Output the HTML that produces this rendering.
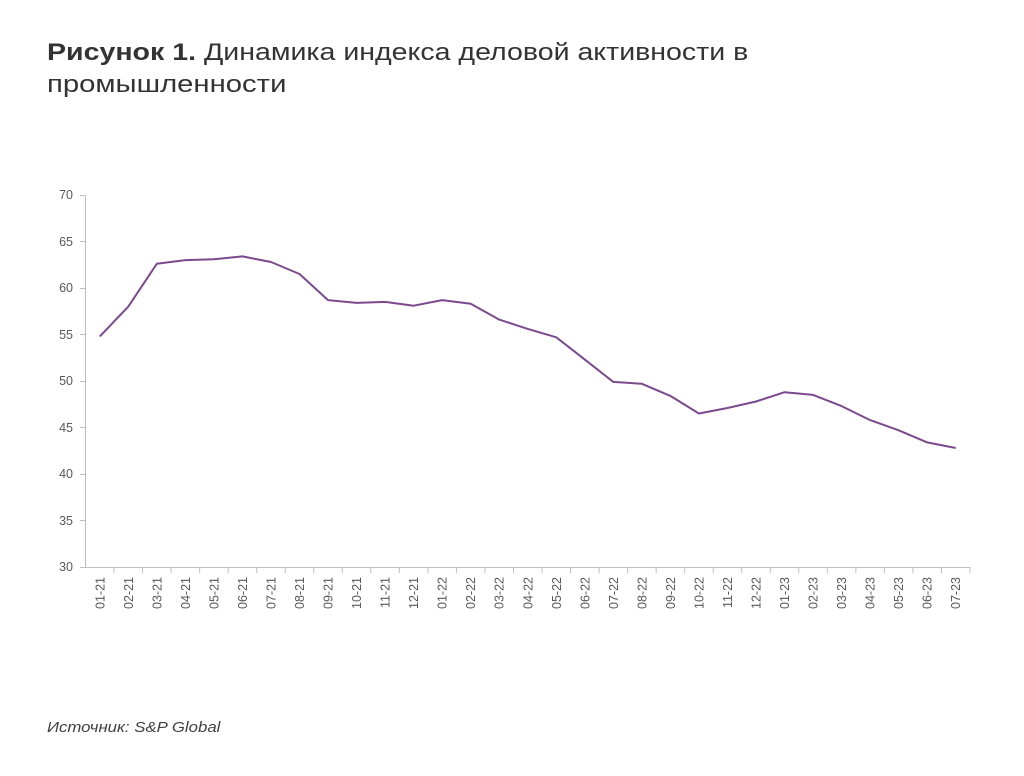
<!DOCTYPE html>
<html><head><meta charset="utf-8"><style>
body{margin:0;background:#fff;width:1024px;height:771px;overflow:hidden;font-family:"Liberation Sans",sans-serif}
</style></head><body>
<svg width="1024" height="771" xmlns="http://www.w3.org/2000/svg" font-family="Liberation Sans, sans-serif">
<g transform="translate(47,60) scale(1.19,1)"><text x="0" y="0" font-size="24" fill="#333"><tspan font-weight="bold">Рисунок 1.</tspan> Динамика индекса деловой активности в</text></g>
<g transform="translate(47,92) scale(1.22,1)"><text x="0" y="0" font-size="24" fill="#333">промышленности</text></g>
<g stroke="#bfbfbf" stroke-width="1" fill="none">
<line x1="85.5" y1="195" x2="85.5" y2="567"/>
<line x1="85" y1="567.5" x2="970" y2="567.5"/>
</g>
<g font-size="12.5" fill="#595959" text-anchor="end">
<text x="73" y="199">70</text><text x="73" y="246">65</text><text x="73" y="292">60</text>
<text x="73" y="339">55</text><text x="73" y="385">50</text><text x="73" y="432">45</text>
<text x="73" y="478">40</text><text x="73" y="525">35</text><text x="73" y="571">30</text>
</g>
<g stroke="#bfbfbf">
<line x1="80" y1="195.5" x2="85" y2="195.5"/><line x1="80" y1="241.5" x2="85" y2="241.5"/><line x1="80" y1="288.5" x2="85" y2="288.5"/>
<line x1="80" y1="334.5" x2="85" y2="334.5"/><line x1="80" y1="381.5" x2="85" y2="381.5"/><line x1="80" y1="427.5" x2="85" y2="427.5"/>
<line x1="80" y1="474.5" x2="85" y2="474.5"/><line x1="80" y1="520.5" x2="85" y2="520.5"/><line x1="80" y1="567.5" x2="85" y2="567.5"/>
</g>
<g id="x"></g>
<polyline id="p" fill="none" stroke="#7b4a8e" stroke-width="2" stroke-linejoin="round"/>
<g transform="translate(47,732) scale(1.12,1)"><text x="0" y="0" font-size="15" font-style="italic" fill="#404040">Источник: S&amp;P Global</text></g>
<script>
var v=[54.8,58.0,62.6,63.0,63.1,63.4,62.8,61.5,58.7,58.4,58.5,58.1,58.7,58.3,56.6,55.6,54.7,52.3,49.9,49.7,48.4,46.5,47.1,47.8,48.8,48.5,47.3,45.8,44.7,43.4,42.8];
var l=[];for(var y=21;y<=23;y++)for(var m=1;m<=12;m++){if(y==23&&m>7)break;l.push((m<10?'0':'')+m+'-'+y);}
var ns="http://www.w3.org/2000/svg",g=document.getElementById('x'),pts=[];
var x0=85.5,w=(970-85.5)/31;
for(var i=0;i<31;i++){var cx=x0+w*(i+0.5);pts.push(cx.toFixed(1)+','+(567-(v[i]-30)*9.3).toFixed(1));
var t=document.createElementNS(ns,'line');var tx=x0+w*(i+1);t.setAttribute('x1',tx);t.setAttribute('x2',tx);t.setAttribute('y1',567);t.setAttribute('y2',573);t.setAttribute('stroke','#bfbfbf');g.appendChild(t);
var s=document.createElementNS(ns,'text');s.setAttribute('transform','translate('+(cx+4.5)+',577) rotate(-90)');s.setAttribute('text-anchor','end');s.setAttribute('font-size','12.5');s.setAttribute('fill','#595959');s.textContent=l[i];g.appendChild(s);}
document.getElementById('p').setAttribute('points',pts.join(' '));
</script>
</svg>
</body></html>
